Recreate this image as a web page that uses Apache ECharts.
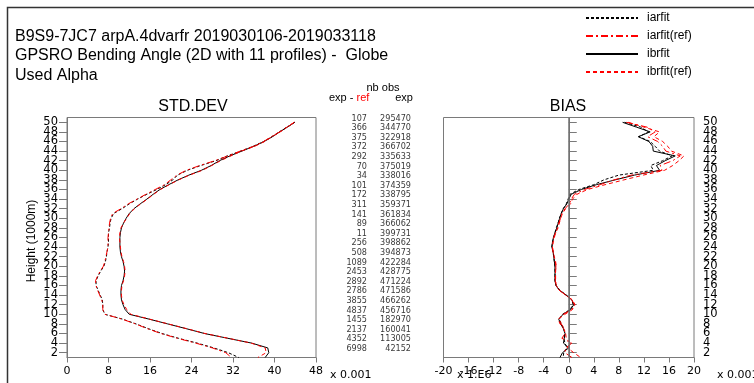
<!DOCTYPE html>
<html><head><meta charset="utf-8">
<script src="https://cdn.jsdelivr.net/npm/echarts@6/dist/echarts.min.js"></script>
<style>html,body{margin:0;padding:0;background:#fff}#c{width:754px;height:383px}</style>
</head><body><div id="c"></div>
<script>
// ---- data ----
const titleLines = ['B9S9-7JC7 arpA.4dvarfr 2019030106-2019033118','GPSRO Bending Angle (2D with 11 profiles) -  Globe','Used Alpha'];
const levels = [50,49,48,47,46,45,44,43,42,41,40,39,38,37,36,35,34,33,32,31,30,29,28,27,26,25,24,23,22,21,20,19,18,17,16,15,14,13,12,11,10,9,8,7,6,5,4,3,2,1];
const stdIarfit    = [43.9,42.4,40.9,39.5,37.9,35.9,33.5,30.9,28.7,25.8,23.2,21.3,20.4,19.0,17.3,15.4,13.6,12.0,10.6,9.0,8.5,8.3,8.2,8.0,8.0,8.0,7.9,7.7,7.6,7.4,7.1,6.5,6.0,5.6,5.6,6.0,6.4,6.8,6.9,6.9,7.3,10.7,13.3,15.7,18.3,21.5,25.1,28.3,31.1,33.1];
const stdIarfitRef = [43.8,42.5,41.0,39.4,37.9,36.0,33.4,31.0,28.5,25.6,23.0,21.2,20.0,18.8,17.0,15.2,13.5,11.8,10.4,8.8,8.4,8.2,8.1,8.0,7.9,7.9,7.9,7.7,7.5,7.3,7.0,6.4,5.9,5.5,5.6,5.9,6.3,6.7,6.9,6.9,7.3,10.6,13.2,15.5,18.1,21.3,24.8,28.0,30.6,31.7];
const stdIbrfit    = [43.9,42.5,41.0,39.6,38.0,36.0,33.7,31.4,29.4,27.8,25.9,23.5,21.4,19.6,17.9,16.6,15.4,14.1,12.9,12.0,11.4,10.9,10.5,10.3,10.2,10.2,10.2,10.3,10.5,10.8,11.0,11.1,11.0,10.8,10.5,10.4,10.4,10.5,10.8,11.2,12.0,15.8,19.4,23.0,26.5,31.0,35.6,38.7,38.9,38.2];
const stdIbrfitRef = [43.8,42.4,41.1,39.5,38.1,36.2,33.6,31.6,29.6,27.9,26.1,23.6,21.5,19.7,18.0,16.7,15.5,14.2,13.0,12.1,11.5,10.9,10.4,10.2,10.1,10.2,10.3,10.4,10.6,10.9,11.1,11.2,11.1,10.9,10.6,10.5,10.5,10.6,11.0,11.5,12.3,15.9,19.5,23.1,26.6,31.1,35.5,38.2,38.4,36.8];
const biasIarfit    = [8.9,11.5,12.7,11.2,13.0,13.8,14.5,16.5,15.0,13.1,13.5,8.0,5.6,4.0,1.6,0.2,-0.1,-0.4,-0.9,-1.2,-1.5,-1.7,-2.0,-2.2,-2.4,-2.6,-2.7,-2.5,-2.4,-2.3,-2.2,-2.2,-2.2,-2.2,-2.0,-1.4,-0.4,0.5,0.7,0.2,-1.0,-1.5,-1.2,-0.8,-0.6,-0.8,-0.6,-0.3,-0.8,-0.9];
const biasIarfitRef = [9.2,12.5,13.8,12.6,14.2,15.0,15.5,17.8,16.6,14.6,14.9,10.0,7.2,5.0,2.5,0.9,0.4,0.1,-0.6,-1.1,-1.3,-1.6,-1.8,-2.1,-2.4,-2.5,-2.6,-2.5,-2.35,-2.15,-2.05,-2.1,-2.15,-2.15,-2.0,-1.5,-0.5,0.5,0.9,0.5,-0.9,-1.5,-1.2,-0.7,-0.6,-1.1,0.5,-0.5,-0.6,0.5];
const biasIbrfit    = [8.6,10.8,13.0,11.1,12.8,13.4,13.5,17.0,15.4,14.0,14.5,10.5,7.4,4.4,2.0,0.4,0.0,-0.3,-0.85,-1.2,-1.45,-1.7,-1.9,-2.2,-2.45,-2.6,-2.7,-2.5,-2.4,-2.3,-2.2,-2.2,-2.2,-2.2,-2.05,-1.5,-0.4,0.5,0.8,0.3,-0.9,-1.6,-1.3,-0.85,-0.6,-0.7,-0.85,0.0,-1.0,-1.4];
const biasIbrfitRef = [9.5,12.0,14.5,13.6,15.0,15.8,16.4,18.4,17.6,16.6,15.3,11.9,8.8,5.8,3.0,1.3,0.6,0.3,-0.5,-1.0,-1.3,-1.5,-1.7,-2.1,-2.3,-2.5,-2.6,-2.5,-2.3,-2.1,-2.0,-2.1,-2.1,-2.1,-2.0,-1.5,-0.5,0.6,1.0,0.6,-0.6,-1.7,-1.4,-0.8,-0.5,-0.4,0.3,-0.2,0.8,1.9];
const obsLevels = [50,48,46,44,42,40,38,36,34,32,30,28,26,24,22,20,18,16,14,12,10,8,6,4,2];
const nbExpMinusRef = [107,366,375,372,292,70,34,101,172,311,141,89,11,256,508,1089,2453,2892,2786,3855,4837,1455,2137,4352,6998];
const nbExp = [295470,344770,322918,366702,335633,375019,338016,374359,338795,359371,361834,366062,399731,398862,394873,422284,428775,471224,471586,466262,456716,182970,160041,113005,42152];
const heightTicks = [2,4,6,8,10,12,14,16,18,20,22,24,26,28,30,32,34,36,38,40,42,44,46,48,50];
const heightLabelsA = [2,6,10,14,18,22,26,30,34,38,42,46,50];
const heightLabelsB = [4,8,12,16,20,24,28,32,36,40,44,48];
const seriesNames = ['iarfit','iarfit(ref)','ibrfit','ibrfit(ref)'];

// ---- pick a narrow font for the obs-count columns ----
function textWidth(font, s){ const c=document.createElement('canvas').getContext('2d'); c.font=font; return c.measureText(s).width; }
let numFont = 'DejaVu Sans Condensed', numSize = 9;
{
  const a = textWidth('10px "Liberation Sans Narrow", monospace', '295470');
  const b = textWidth('10px monospace', '295470');
  if (Math.abs(a-b) > 0.5 && a < 32) { numFont = 'Liberation Sans Narrow'; numSize = 10; }
}

// ---- chart ----
const chart = echarts.init(document.getElementById('c'), null, {renderer:'canvas'});
const pair = (vals) => vals.map((v,i)=>[v, levels[i]]);
const styles = [
  {color:'#000', type:[3,2]},
  {color:'#ff0000', type:[7,3,2,3]},
  {color:'#000', type:'solid'},
  {color:'#ff0000', type:[4,3]}
];
const stdSets = [stdIarfit, stdIarfitRef, stdIbrfit, stdIbrfitRef];
const biasSets = [biasIarfit, biasIarfitRef, biasIbrfit, biasIbrfitRef];
const FONT = 'DejaVu Sans';
const series = [];
stdSets.forEach((d,k)=>series.push({name:seriesNames[k], type:'line', xAxisIndex:0, yAxisIndex:0, data:pair(d), showSymbol:false, symbol:'none', silent:true,
  lineStyle:{color:styles[k].color, type:styles[k].type, width:1}, itemStyle:{color:styles[k].color}, z: k%2===1?3:2}));
biasSets.forEach((d,k)=>series.push({name:seriesNames[k], type:'line', xAxisIndex:1, yAxisIndex:1, data:pair(d), showSymbol:false, symbol:'none', silent:true,
  lineStyle:{color:styles[k].color, type:styles[k].type, width:1}, itemStyle:{color:styles[k].color}, z: k%2===1?3:2,
  markLine: k===0 ? {silent:true, symbol:'none', label:{show:false}, lineStyle:{color:'#707070', type:'solid', width:1.5}, data:[{xAxis:0}]} : undefined}));
const numLabel = () => ({show:true, position:'inside', align:'right', verticalAlign:'middle', offset:[0,-4], color:'#000',
  fontFamily:numFont, fontSize:numSize, formatter:(p)=>String(p.value[2])});
series.push({type:'scatter', xAxisIndex:2, yAxisIndex:2, symbolSize:0, silent:true, data: obsLevels.map((l,i)=>[47, l, nbExpMinusRef[i]]), label:numLabel()});
series.push({type:'scatter', xAxisIndex:2, yAxisIndex:2, symbolSize:0, silent:true, data: obsLevels.map((l,i)=>[91, l, nbExp[i]]), label:numLabel()});

const axLabel = {color:'#000', fontFamily:FONT, fontSize:11};
function yMain(grid, pos){
  return {gridIndex:grid, position:pos, type:'value', min:1, max:51, interval:1, splitLine:{show:false},
    axisLine:{show:true, lineStyle:{color:'#7a7a7a'}},
    axisTick:{show:true, length:8, customValues:heightTicks, lineStyle:{color:'#7a7a7a'}},
    axisLabel:Object.assign({customValues:heightLabelsA, margin:9, showMinLabel:true, showMaxLabel:true}, axLabel, {fontSize:11.5})};
}
function yExtra(grid, pos){
  return {gridIndex:grid, position:pos, offset:0, type:'value', min:1, max:51, interval:1, splitLine:{show:false},
    axisLine:{show:false}, axisTick:{show:false},
    axisLabel:Object.assign({customValues:heightLabelsB, margin:9, showMinLabel:true, showMaxLabel:true}, axLabel, {fontSize:11.5})};
}

const option = {
  animation:false,
  backgroundColor:'#fff',
  legend:{orient:'vertical', left:585, top:12, padding:0, itemWidth:52, itemHeight:12, itemGap:6, data:seriesNames, selectedMode:false,
    itemStyle:{opacity:0},
    textStyle:{color:'#000', fontFamily:'Liberation Sans', fontSize:12, padding:[0,0,0,4]}},
  grid:[
    {left:67, top:117.5, width:249, height:240, show:true, borderColor:'#7a7a7a', borderWidth:1, containLabel:false},
    {left:443.5, top:117.5, width:250.5, height:240, show:true, borderColor:'#7a7a7a', borderWidth:1, containLabel:false},
    {left:320, top:117.5, width:100, height:240, show:false}
  ],
  xAxis:[
    {gridIndex:0, type:'value', min:0, max:48, interval:8, splitLine:{show:false},
      axisLine:{show:true, lineStyle:{color:'#7a7a7a'}}, axisTick:{show:true, length:5, lineStyle:{color:'#7a7a7a'}},
      axisLabel:Object.assign({margin:8, showMinLabel:true, showMaxLabel:true}, axLabel)},
    {gridIndex:1, type:'value', min:-20, max:20, interval:4, splitLine:{show:false},
      axisLine:{show:true, onZero:false, lineStyle:{color:'#7a7a7a'}}, axisTick:{show:true, length:5, lineStyle:{color:'#7a7a7a'}},
      axisLabel:Object.assign({margin:8, showMinLabel:true, showMaxLabel:true}, axLabel)},
    {gridIndex:2, type:'value', min:0, max:100, show:false}
  ],
  yAxis:[
    yMain(0,'left'),
    yMain(1,'right'),
    {gridIndex:2, type:'value', min:1, max:51, show:false},
    yExtra(0,'left'),
    yExtra(1,'right')
  ],
  graphic:[
    {type:'rect', left:5, top:5, shape:{width:800, height:420}, style:{fill:null, stroke:'#333', lineWidth:1.5}, silent:true},
    {type:'text', left:15, top:29, style:{text:titleLines[0], font:'16px Liberation Sans', fill:'#000'}},
    {type:'text', left:15, top:48, style:{text:titleLines[1], font:'16px Liberation Sans', fill:'#000'}},
    {type:'text', left:15, top:68, style:{text:titleLines[2], font:'16px Liberation Sans', fill:'#000'}},
    {type:'text', x:383, y:88, style:{text:'nb obs', font:'11px Liberation Sans', fill:'#000', align:'center', verticalAlign:'middle'}},
    {type:'text', x:329, y:98, style:{rich:{a:{fill:'#000', font:'11px Liberation Sans'}, b:{fill:'#ff0000', font:'11px Liberation Sans'}}, text:'{a|exp - }{b|ref}', verticalAlign:'middle'}},
    {type:'text', x:404, y:98, style:{text:'exp', font:'11px Liberation Sans', fill:'#000', align:'center', verticalAlign:'middle'}},
    {type:'text', x:193, y:107, style:{text:'STD.DEV', font:'16px Liberation Sans', fill:'#000', align:'center', verticalAlign:'middle'}},
    {type:'text', x:568, y:107, style:{text:'BIAS', font:'16px Liberation Sans', fill:'#000', align:'center', verticalAlign:'middle'}},
    {type:'text', x:32, y:241, rotation:Math.PI/2, style:{text:'Height (1000m)', font:'12px Liberation Sans', fill:'#000', align:'center', verticalAlign:'middle'}},
    {type:'text', x:330, y:375, style:{text:'x 0.001', font:'11px DejaVu Sans', fill:'#000', verticalAlign:'middle'}},
    {type:'text', x:717, y:375, style:{text:'x 0.001', font:'11px DejaVu Sans', fill:'#000', verticalAlign:'middle'}},
    {type:'text', x:457, y:375, style:{text:'x 1.E6', font:'11px DejaVu Sans', fill:'#000', verticalAlign:'middle'}}
  ],
  series: series
};
chart.setOption(option);
</script></body></html>
